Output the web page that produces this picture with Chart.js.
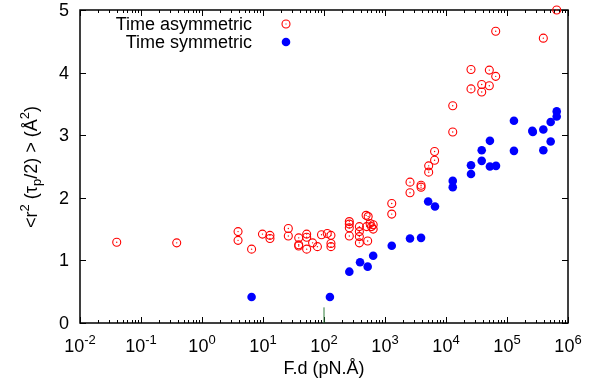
<!DOCTYPE html>
<html>
<head>
<meta charset="utf-8">
<script src="https://cdn.jsdelivr.net/npm/chart.js@4.4.0/dist/chart.umd.min.js"></script>
<style>
  html, body { margin: 0; padding: 0; background: #fff; }
  #wrap { width: 592px; height: 385px; }
</style>
</head>
<body>
<div id="wrap"><canvas id="c" width="592" height="385"></canvas></div>
<script>
// values
const asymX = [0.040, 0.385, 3.9, 3.9, 6.5, 9.8, 13, 13, 26, 26, 38.5, 38.5, 38.5, 52, 52, 52, 65, 78, 91,
  113, 130, 130, 130, 260, 260, 260, 260, 380, 380, 380, 380, 490, 530, 570, 520, 600, 640, 640, 500,
  1290, 1290, 2570, 2570, 3900, 3900, 5200, 5200, 6500, 6500, 12900, 12900, 25700, 25700, 38500, 38500,
  51300, 51300, 65300, 65300, 394000, 653000];
const asymY = [1.29, 1.28, 1.46, 1.32, 1.18, 1.42, 1.40, 1.35, 1.51, 1.39, 1.36, 1.23, 1.25, 1.42, 1.37, 1.18, 1.28, 1.22, 1.41,
  1.43, 1.40, 1.27, 1.22, 1.62, 1.58, 1.52, 1.39, 1.54, 1.46, 1.38, 1.28, 1.72, 1.70, 1.59, 1.31, 1.54, 1.57, 1.50, 1.54,
  1.91, 1.74, 2.25, 2.08, 2.20, 2.17, 2.51, 2.41, 2.74, 2.60, 3.47, 3.05, 4.05, 3.74, 3.81, 3.69,
  4.04, 3.79, 4.66, 3.94, 4.55, 5.0];

const symX = [6.5, 125, 260, 390, 520, 640, 1290, 2570, 3900, 5100, 6600, 12900, 12900, 25700, 25700,
  38500, 38500, 52500, 52500, 66000, 130000, 130000, 260000, 265000, 394000, 394000, 520000, 520000, 653000, 653000];
const symY = [0.415, 0.415, 0.82, 0.97, 0.90, 1.075, 1.235, 1.35, 1.36, 1.94, 1.86, 2.27, 2.17, 2.52, 2.38,
  2.76, 2.59, 2.91, 2.50, 2.51, 3.23, 2.75, 3.07, 3.05, 3.09, 2.76, 3.21, 2.90, 3.38, 3.30];

// small vertical mark near the bottom axis
const markX = [100, 100];
const markY = [0, 0.25];

const xExps = [-2, -1, 0, 1, 2, 3, 4, 5, 6];
const yTicks = [0, 1, 2, 3, 4, 5];
const seriesNames = ['Time asymmetric', 'Time symmetric'];

const RED = '#ff0000';
const BLUE = '#0000ff';
const FONT = "'Liberation Sans', Arial, sans-serif";

const pts = (xs, ys) => xs.map((v, i) => ({ x: v, y: ys[i] }));

// draw a run of text pieces, some raised or lowered
function drawPieces(ctx, pieces, x, y) {
  let w = 0;
  pieces.forEach(p => { ctx.font = p[2] + 'px ' + FONT; w += ctx.measureText(p[0]).width; });
  let cx = x - w / 2;
  ctx.textAlign = 'left';
  ctx.textBaseline = 'alphabetic';
  pieces.forEach(p => {
    ctx.font = p[2] + 'px ' + FONT;
    ctx.fillText(p[0], cx, y + p[1]);
    cx += ctx.measureText(p[0]).width;
  });
}

const gnuplotAxes = {
  id: 'gnuplotAxes',
  beforeDatasetsDraw(chart) {
    const { ctx, chartArea: a, scales: { x, y } } = chart;
    ctx.save();
    ctx.strokeStyle = '#000';
    ctx.lineWidth = 1;
    const seg = (x1, y1, x2, y2) => { ctx.beginPath(); ctx.moveTo(x1, y1); ctx.lineTo(x2, y2); ctx.stroke(); };

    // x ticks, major + minor, bottom and top
    xExps.forEach((e, i) => {
      const px = Math.round(x.getPixelForValue(Math.pow(10, e))) + 0.5;
      seg(px, a.bottom, px, a.bottom - 6);
      seg(px, a.top, px, a.top + 6);
      if (i < xExps.length - 1) {
        for (let m = 2; m <= 9; m++) {
          const mx = Math.round(x.getPixelForValue(m * Math.pow(10, e))) + 0.5;
          seg(mx, a.bottom, mx, a.bottom - 3);
          seg(mx, a.top, mx, a.top + 3);
        }
      }
    });
    // y ticks left and right
    yTicks.forEach(v => {
      const py = Math.round(y.getPixelForValue(v)) + 0.5;
      seg(a.left, py, a.left + 6, py);
      seg(a.right, py, a.right - 6, py);
    });

    ctx.lineWidth = 1.5;
    ctx.strokeRect(a.left, a.top, a.right - a.left, a.bottom - a.top);

    // tick labels
    ctx.fillStyle = '#000';
    xExps.forEach(e => {
      const px = x.getPixelForValue(Math.pow(10, e));
      drawPieces(ctx, [['10', 0, 18], [String(e), -8, 13]], px, 352);
    });
    ctx.font = '18px ' + FONT;
    ctx.textAlign = 'right';
    ctx.textBaseline = 'middle';
    yTicks.forEach(v => ctx.fillText(String(v), 69, y.getPixelForValue(v) + 1));

    // axis titles
    drawPieces(ctx, [['F.d (pN.Å)', 0, 18]], 324, 374);
    ctx.save();
    ctx.translate(37, 167);
    ctx.rotate(-Math.PI / 2);
    drawPieces(ctx, [['<r', 0, 18], ['2', -8, 13], [' (τ', 0, 18], ['p', 4, 13], ['/2) > (Å', 0, 18], ['2', -8, 13], [')', 0, 18]], 0, 0);
    ctx.restore();

    // key, text right-aligned with the symbol to its right
    ctx.font = '18px ' + FONT;
    ctx.textAlign = 'right';
    ctx.textBaseline = 'middle';
    ctx.fillText(seriesNames[0], 252, 25);
    ctx.fillText(seriesNames[1], 252, 43);
    ctx.strokeStyle = RED;
    ctx.lineWidth = 1.1;
    ctx.beginPath(); ctx.arc(286, 24, 4, 0, Math.PI * 2); ctx.stroke();
    ctx.fillStyle = RED;
    ctx.fillRect(285.5, 23.5, 1, 1);
    ctx.fillStyle = BLUE;
    ctx.beginPath(); ctx.arc(286, 42, 4.3, 0, Math.PI * 2); ctx.fill();
    ctx.restore();
  }
};

const zeroAxis = s => { s.width = 0; s.height = 0; };

new Chart(document.getElementById('c'), {
  type: 'scatter',
  data: {
    datasets: [
      { label: seriesNames[0], data: pts(asymX, asymY), pointStyle: 'circle', pointRadius: 4,
        borderColor: RED, borderWidth: 1.1, backgroundColor: 'rgba(0,0,0,0)', clip: false },
      { label: 'centres', data: pts(asymX, asymY), pointRadius: 0.7, borderWidth: 0,
        backgroundColor: RED, clip: false },
      { label: seriesNames[1], data: pts(symX, symY), pointRadius: 4.3, borderWidth: 0,
        backgroundColor: BLUE, clip: false },
      { type: 'line', label: 'mark', data: pts(markX, markY), showLine: true, pointRadius: 0,
        borderColor: '#2e7d3a', borderWidth: 1 }
    ]
  },
  options: {
    responsive: false,
    animation: false,
    events: [],
    layout: { padding: { left: 80, right: 24, top: 10, bottom: 62 } },
    plugins: { legend: { display: false }, tooltip: { enabled: false } },
    scales: {
      x: { type: 'logarithmic', min: 0.01, max: 1e6, afterFit: zeroAxis,
        grid: { display: false }, border: { display: false }, ticks: { display: false } },
      y: { type: 'linear', min: 0, max: 5, afterFit: zeroAxis,
        grid: { display: false }, border: { display: false }, ticks: { display: false } }
    }
  },
  plugins: [gnuplotAxes]
});
</script>
</body>
</html>
